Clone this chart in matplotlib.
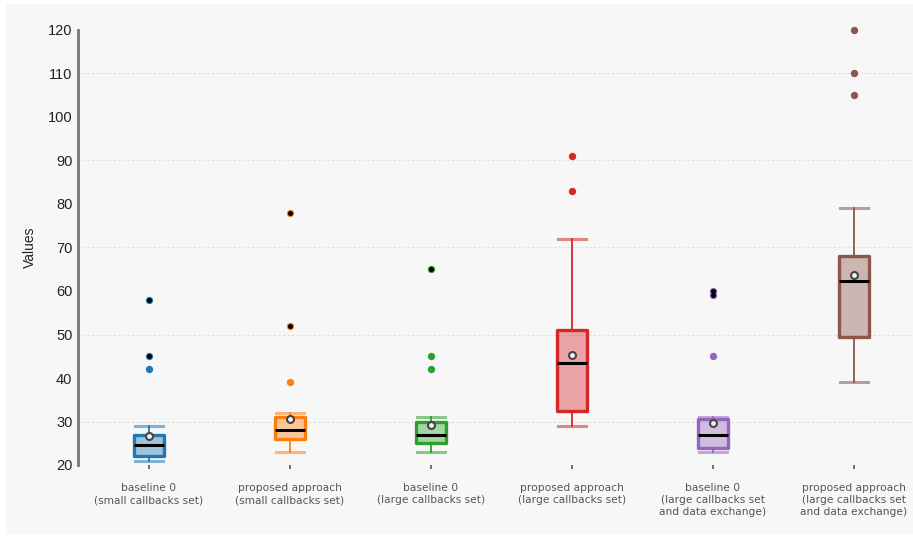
import matplotlib
matplotlib.use("Agg")
import matplotlib.pyplot as plt
from matplotlib.patches import Rectangle
from matplotlib.colors import to_rgba

# Group labels and per-group summary statistics
labels = [
    "baseline 0\n(small callbacks set)",
    "proposed approach\n(small callbacks set)",
    "baseline 0\n(large callbacks set)",
    "proposed approach\n(large callbacks set)",
    "baseline 0\n(large callbacks set\nand data exchange)",
    "proposed approach\n(large callbacks set\nand data exchange)",
]
whisker_low = [21, 23, 23, 29, 23, 39]
q1 = [22, 26, 25, 32.3, 24, 49.5]
medians = [24.5, 28, 27, 43.4, 26.8, 62.4]
q3 = [27, 31, 30, 51, 30.6, 68]
whisker_high = [29, 32, 31, 72, 31, 79]
means = [26.6, 30.6, 29.3, 45.3, 29.6, 63.6]
outliers = [
    [42, 45, 58],
    [39, 52, 78],
    [42, 45, 65],
    [83, 91],
    [45, 59, 60],
    [105, 110, 120],
]
# outliers that occur more than once (drawn with a dark centre)
repeated = [
    [45, 58],
    [52, 78],
    [65],
    [],
    [59, 60],
    [],
]
colors = ["#1f77b4", "#ff7f0e", "#2ca02c", "#d62728", "#9467bd", "#8c564b"]
ytick_values = [20, 30, 40, 50, 60, 70, 80, 90, 100, 110, 120]
grid_values = [30, 50, 70, 90, 110]

W, H = 913, 536
fig = plt.figure(figsize=(W / 100, H / 100), dpi=100, facecolor="white")
fig.patches.append(Rectangle((6 / W, 2 / H), 907 / W, 530 / H,
                             transform=fig.transFigure, facecolor="#f7f7f7",
                             edgecolor="none", zorder=-10))

ax = fig.add_axes([78 / W, (H - 465) / H, (913 - 78) / W, (465 - 30) / H])
ax.set_facecolor("none")

positions = list(range(len(labels)))
stats = []
for i in positions:
    stats.append(dict(whislo=whisker_low[i], q1=q1[i], med=medians[i], q3=q3[i],
                      whishi=whisker_high[i], mean=means[i], fliers=[], label=""))

bp = ax.bxp(stats, positions=positions, widths=0.21, patch_artist=True,
            showmeans=True, showfliers=False, capwidths=0.2)

for i, c in enumerate(colors):
    box = bp["boxes"][i]
    box.set_facecolor(to_rgba(c, 0.4))
    box.set_edgecolor(c)
    box.set_linewidth(2.4)
    box.set_joinstyle("round")
    box.set_zorder(3)
    for w in bp["whiskers"][2 * i:2 * i + 2]:
        w.set_color(c)
        w.set_linewidth(1.3)
        w.set_zorder(2)
    for cap in bp["caps"][2 * i:2 * i + 2]:
        cap.set_color(to_rgba(c, 0.55))
        cap.set_linewidth(2.2)
        cap.set_zorder(2)
    med = bp["medians"][i]
    med.set_color("black")
    med.set_linewidth(2.2)
    med.set_zorder(4)
    mn = bp["means"][i]
    mn.set_marker("o")
    mn.set_markersize(5)
    mn.set_markerfacecolor("#f2f2f2")
    mn.set_markeredgecolor("#444444")
    mn.set_markeredgewidth(1.5)
    mn.set_zorder(5)

    xs = [positions[i]] * len(outliers[i])
    ax.scatter(xs, outliers[i], s=28, color=c, zorder=5, clip_on=False,
               linewidths=0)
    if repeated[i]:
        ax.scatter([positions[i]] * len(repeated[i]), repeated[i], s=13,
                   color="black", zorder=6, clip_on=False, linewidths=0)

for g in grid_values:
    ax.axhline(g, color="#dddddd", linewidth=0.8, linestyle=(0, (2, 2)), zorder=1)

ax.set_xlim(-0.5035, 5.418)
ax.set_ylim(20, 120)
ax.set_yticks(ytick_values)
ax.set_yticklabels([str(v) for v in ytick_values], fontsize=10.5,
                   fontfamily="Liberation Sans", color="#222222")
ax.tick_params(axis="y", length=0, pad=4)
ax.set_xticks(positions)
ax.set_xticklabels(labels, fontsize=7.7, color="#555555", fontfamily="DejaVu Sans",
                   linespacing=1.25)
ax.tick_params(axis="x", length=3, width=1.2, color="#555555", pad=10)

for side in ["top", "right", "bottom"]:
    ax.spines[side].set_visible(False)
ax.spines["left"].set_color("#777777")
ax.spines["left"].set_linewidth(2)

ax.set_ylabel("Values", fontsize=10, fontfamily="Liberation Sans", color="#222222",
              labelpad=8)

fig.savefig("out.png", dpi=100, facecolor="white")
